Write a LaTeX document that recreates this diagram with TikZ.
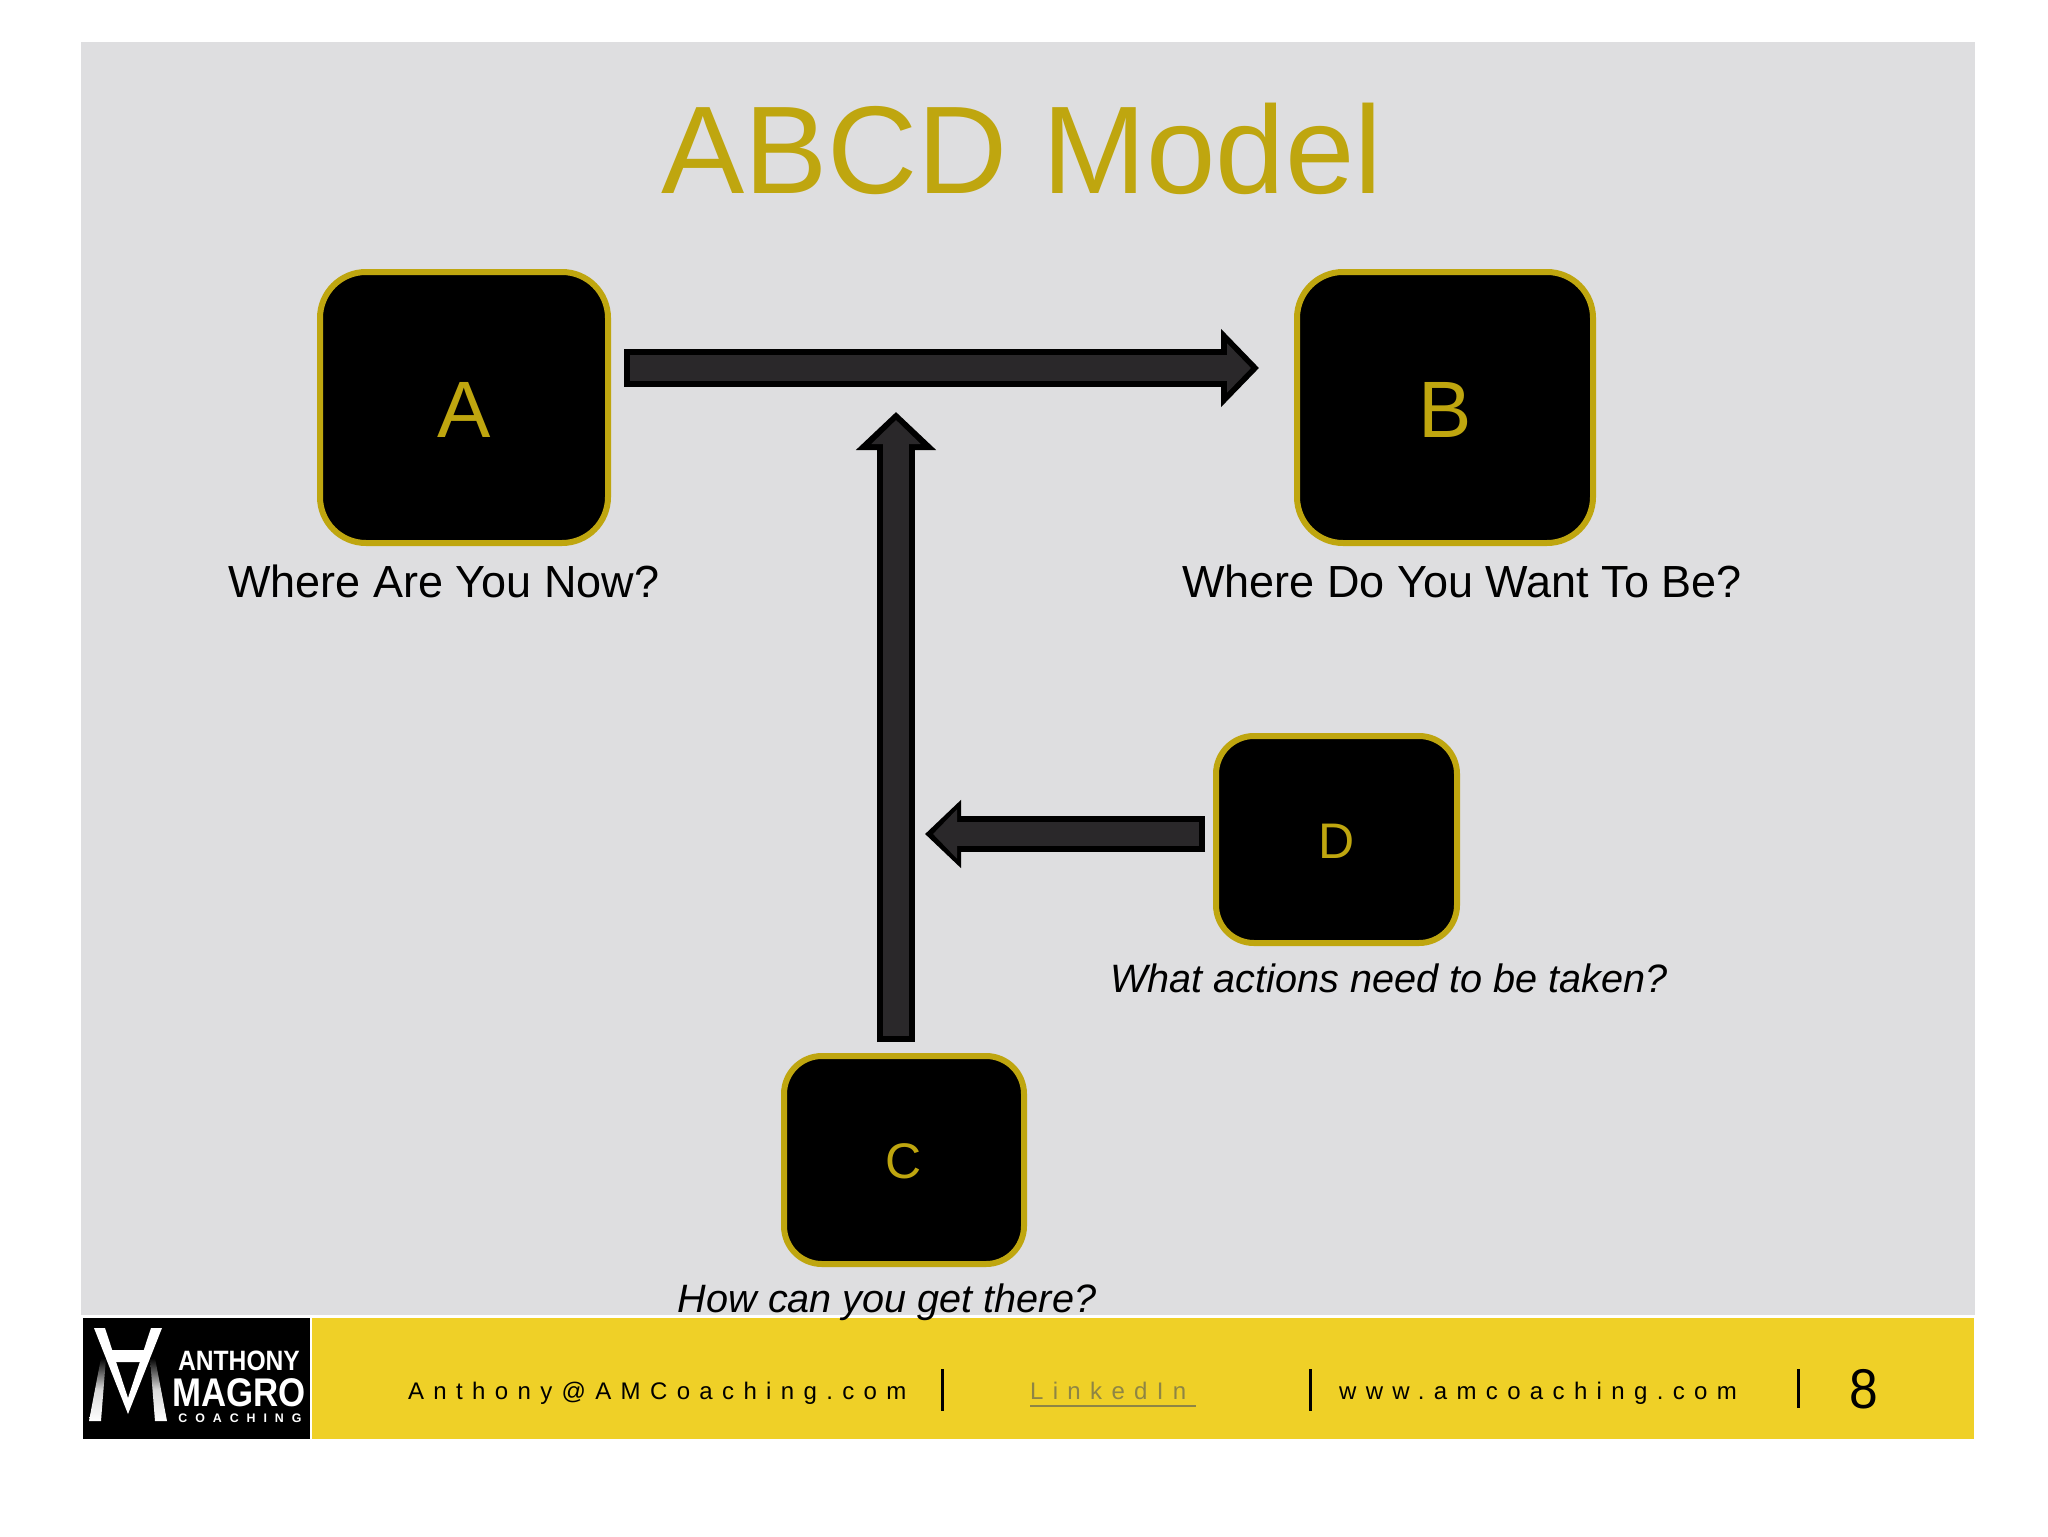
\documentclass[tikz,border=0pt]{standalone}
\usepackage{fontspec}
\setmainfont{Liberation Sans}
\newfontfamily\spacedfont[LetterSpace=39]{Liberation Sans}
\newfontfamily\logofont[LetterSpace=64]{Liberation Sans}
\usetikzlibrary{arrows.meta}
\definecolor{slidegray}{HTML}{DEDEE0}
\definecolor{gold}{HTML}{BFA60F}
\definecolor{footyellow}{HTML}{EFD027}
\definecolor{arrowgray}{HTML}{2A282A}
\definecolor{linkgray}{HTML}{8E8544}
\tikzset{
  letterbox/.style={draw=gold, fill=black, line width=3pt, rounded corners=23pt, text=gold, inner sep=0pt},
  bigletter/.style={font=\fontsize{40}{44}\selectfont, text height=30pt},
  smallletter/.style={font=\fontsize{25}{28}\selectfont, text height=19pt, rounded corners=19pt},
  question/.style={anchor=base, font=\fontsize{22.5}{26}\selectfont},
  smallquestion/.style={anchor=base, font=\fontsize{19.8}{24}\itshape\selectfont},
  footlabel/.style={anchor=base west, font=\fontsize{12}{14}\spacedfont},
  footbar/.style={line width=1.5pt},
  logotext/.style={anchor=base, text=white, inner sep=0pt}
}
\begin{document}
\begin{tikzpicture}[x=0.5pt,y=-0.5pt]
  \useasboundingbox (0,0) rectangle (2048,1536);
  \fill[white] (0,0) rectangle (2048,1536);
  \fill[slidegray] (81,42) rectangle (1975,1315);
  \fill[footyellow] (312,1318) rectangle (1974,1439);
  \fill[black] (83,1318) rectangle (310,1439);

  \node[anchor=base, text=gold, font=\fontsize{62.4}{70}\selectfont] (title) at (1022,193) {ABCD Model};

  \node[letterbox, bigletter, minimum width=144pt, minimum height=135.5pt] (a) at (464,407.5) {A};
  \node[letterbox, bigletter, minimum width=148pt, minimum height=135.5pt] (b) at (1445,407.5) {B};
  \node[letterbox, smallletter, minimum width=120pt, minimum height=104pt] (c) at (904,1160) {C};
  \node[letterbox, smallletter, minimum width=120.5pt, minimum height=103.5pt] (d) at (1336.5,839.5) {D};

  \node[question] (alabel) at (444,597) {Where Are You Now?};
  \node[question] (blabel) at (1462,597) {Where Do You Want To Be?};
  \node[smallquestion] (dlabel) at (1389,992) {What actions need to be taken?};
  \node[smallquestion] (clabel) at (887,1312) {How can you get there?};

  \coordinate (abtail) at (624,368);
  \coordinate (abtip) at (1259,368);
  \coordinate (ctail) at (896,1042);
  \coordinate (ctip) at (896,412);
  \coordinate (dtail) at (1205,834);
  \coordinate (dtip) at (925,834);
  \foreach \from/\to/\shaft/\headlen/\headwid in {abtail/abtip/19pt/19pt/38pt,ctail/ctip/19pt/19pt/39pt,dtail/dtip/18pt/18pt/33pt}{
    \draw[black, line width=\shaft, -{Triangle[length=\headlen,width=\headwid]}] (\from) -- (\to);
  }
  \foreach \from/\to/\shaft in {abtail/abtip/13pt,ctail/ctip/13pt,dtail/dtip/12pt}{
    \draw[arrowgray, line width=\shaft, shorten <=3pt, shorten >=4pt, -{Triangle[length=12pt,width=24pt]}] (\from) -- (\to);
  }

  % footer
  \node[footlabel] (mail) at (401,1399) {Anthony@AMCoaching.com};
  \node[footlabel, text=linkgray] (link) at (1023,1399) {LinkedIn};
  \draw[linkgray, line width=1pt] (link.base west) ++(7,7) -- ++(166,0);
  \node[footlabel] (web) at (1332,1399) {www.amcoaching.com};
  \node[anchor=base, xscale=0.92, font=\fontsize{28}{32}\selectfont] (page) at (1864,1408) {8};
  \draw[footbar] (942,1369) -- (942,1411);
  \draw[footbar] (1310,1369) -- (1310,1411);
  \draw[footbar] (1798,1369) -- (1798,1408);

  % logo
  \fill[white] (94,1328) -- (105,1328) -- (128,1398) -- (151,1328) -- (162,1328) -- (128,1414) -- cycle;
  \fill[white] (105,1350) -- (151,1350) -- (147,1362) -- (109,1362) -- cycle;
  \shade[top color=black, bottom color=white, middle color=white!85!black] (89,1421) -- (101,1421) -- (106,1358) -- (101,1358) -- cycle;
  \shade[top color=black, bottom color=white, middle color=white!85!black] (155,1421) -- (167,1421) -- (155,1358) -- (150,1358) -- cycle;
  \node[logotext, xscale=0.88, font=\fontsize{14}{16}\bfseries\selectfont] (anthony) at (239,1370) {ANTHONY};
  \node[logotext, xscale=0.87, font=\fontsize{20}{22}\bfseries\selectfont] (magro) at (239,1406) {MAGRO};
  \node[logotext, font=\fontsize{6.2}{7}\bfseries\logofont] (coaching) at (240,1422) {COACHING};
\end{tikzpicture}
\end{document}
